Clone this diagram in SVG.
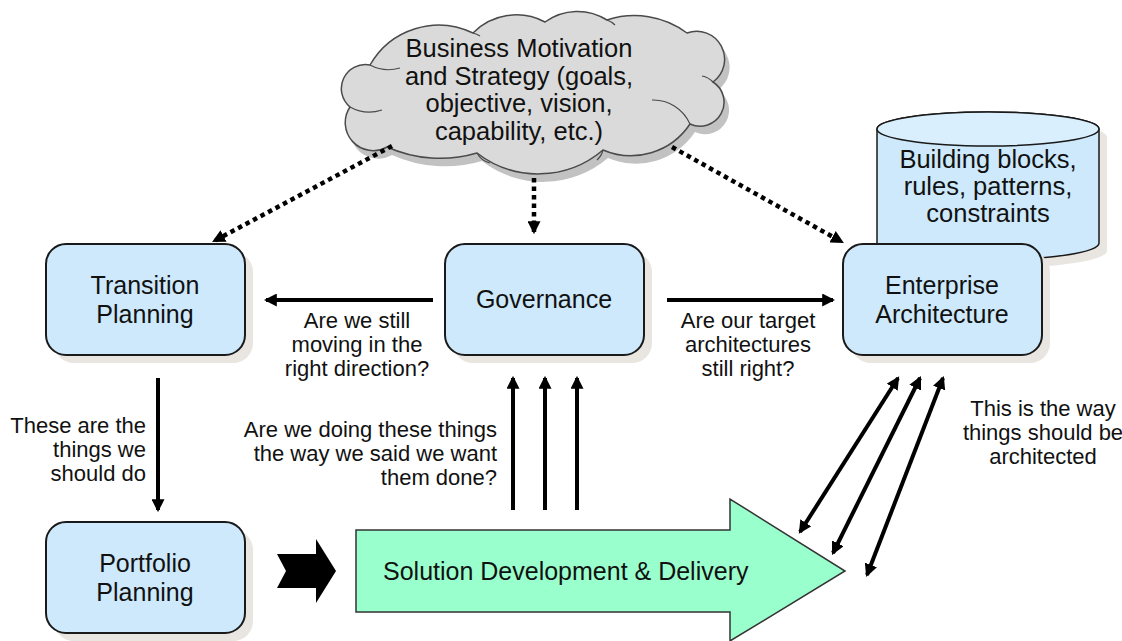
<svg xmlns="http://www.w3.org/2000/svg" width="1122" height="641" viewBox="0 0 1122 641">
<style>
.box{fill:#cde9fb;stroke:#1a1a1a;stroke-width:2}
.shadow{fill:#e9e5e1;stroke:none}
.t{font-family:"Liberation Sans",Arial,sans-serif;fill:#111}
.n{font-size:25px;text-anchor:middle}
.c{font-size:25.5px;text-anchor:middle}
.l{font-size:22px}
.mid{text-anchor:middle}
.end{text-anchor:end}
.solid{stroke:#000;stroke-width:4;fill:none}
.dot{stroke:#000;stroke-width:4.5;fill:none;stroke-dasharray:4.5 4}
.inner{fill:none;stroke:#4a4a4a;stroke-width:1.2}
</style>
<defs>
<marker id="ah" viewBox="0 0 12 12" refX="10" refY="6" markerWidth="13" markerHeight="13" orient="auto-start-reverse" markerUnits="userSpaceOnUse">
<path d="M0,0 L12,6 L0,12 z" fill="#000"/>
</marker>
<path id="cloudPath" d="M370,65 A79,79 0 0 1 473,33 A61,61 0 0 1 545,22 A55,55 0 0 1 607,20 A88,88 0 0 1 687,33 A28,28 0 0 1 713,82 A24,24 0 0 1 690,124 A71,71 0 0 1 603,150 A100,100 0 0 1 477,153 A130,130 0 0 1 387,147 A28,28 0 0 1 350,107 A24,24 0 0 1 370,65 Z"/>
</defs>

<g id="cloud">
<use href="#cloudPath" transform="translate(5,8)" fill="#c2c2c2"/>
<use href="#cloudPath" fill="#dadada" stroke="#4a4a4a" stroke-width="1.5"/>
<path class="inner" d="M350,107 A40,40 0 0 0 382,110"/>
<path class="inner" d="M370,65 A40,40 0 0 0 400,68"/>
<path class="inner" d="M690,124 A40,40 0 0 0 652,100"/>
<path class="inner" d="M713,82 A20,20 0 0 0 702,76"/>
<path class="inner" d="M477,153 A20,20 0 0 0 490,163"/>
<path class="inner" d="M603,150 A20,20 0 0 1 597,160"/>
<path class="inner" d="M473,33 A20,20 0 0 1 480,36"/>
<path class="inner" d="M607,20 A20,20 0 0 1 615,25"/>
<text class="t c" x="519" y="57">Business Motivation</text>
<text class="t c" x="519" y="85">and Strategy (goals,</text>
<text class="t c" x="519" y="112">objective, vision,</text>
<text class="t c" x="519" y="140">capability, etc.)</text>
</g>

<g id="repository">
<path class="shadow" d="M885,137 A111,17 0 0 1 1107,137 L1107,251 A111,17 0 0 1 885,251 Z"/>
<path d="M877,129 A111,17 0 0 1 1099,129 L1099,243 A111,17 0 0 1 877,243 Z" fill="#cde9fb" stroke="#1a1a1a" stroke-width="1.5"/>
<ellipse cx="988" cy="129" rx="111" ry="17" fill="#d9effd" stroke="#1a1a1a" stroke-width="1.5"/>
<text class="t c" x="988" y="168">Building blocks,</text>
<text class="t c" x="988" y="195">rules, patterns,</text>
<text class="t c" x="988" y="222">constraints</text>
</g>

<g id="transition-planning">
<rect class="shadow" x="54" y="252" width="199" height="111" rx="20"/>
<rect class="box" x="46" y="244" width="199" height="111" rx="20"/>
<text class="t n" x="145" y="294">Transition</text>
<text class="t n" x="145" y="323">Planning</text>
</g>

<g id="governance">
<rect class="shadow" x="453" y="252" width="199" height="111" rx="20"/>
<rect class="box" x="445" y="244" width="199" height="111" rx="20"/>
<text class="t n" x="544" y="308">Governance</text>
</g>

<g id="enterprise-architecture">
<rect class="shadow" x="851" y="252" width="199" height="111" rx="20"/>
<rect class="box" x="843" y="244" width="199" height="111" rx="20"/>
<text class="t n" x="942" y="294">Enterprise</text>
<text class="t n" x="942" y="323">Architecture</text>
</g>

<g id="portfolio-planning">
<rect class="shadow" x="54" y="530" width="199" height="111" rx="20"/>
<rect class="box" x="46" y="522" width="199" height="111" rx="20"/>
<text class="t n" x="145" y="572">Portfolio</text>
<text class="t n" x="145" y="601">Planning</text>
</g>

<g id="solution-delivery">
<path d="M356,530 L730,530 L730,499 L845,571 L730,641 L730,612 L356,612 Z" fill="#99ffcc" stroke="#333" stroke-width="1.5"/>
<text class="t" x="383" y="580" style="font-size:25px">Solution Development &amp; Delivery</text>
</g>

<g id="connectors">
<path class="dot" d="M392,146 L214,241" marker-end="url(#ah)"/>
<path class="dot" d="M534,178 L534,232" marker-end="url(#ah)"/>
<path class="dot" d="M672,147 L842,242" marker-end="url(#ah)"/>
<path class="solid" d="M433,300 L266,300" marker-end="url(#ah)"/>
<path class="solid" d="M667,300 L833,300" marker-end="url(#ah)"/>
<path class="solid" d="M158,378 L158,510" marker-end="url(#ah)"/>
<path class="solid" d="M513,510 L513,378" marker-end="url(#ah)"/>
<path class="solid" d="M545,510 L545,378" marker-end="url(#ah)"/>
<path class="solid" d="M577,510 L577,378" marker-end="url(#ah)"/>
<path class="solid" d="M898,378 L800,532" marker-start="url(#ah)" marker-end="url(#ah)"/>
<path class="solid" d="M920,378 L833,553" marker-start="url(#ah)" marker-end="url(#ah)"/>
<path class="solid" d="M943,378 L867,575" marker-start="url(#ah)" marker-end="url(#ah)"/>
<path d="M277,554 L316,554 L316,539 L336,571 L316,603 L316,588 L277,588 L286,571 Z" fill="#000"/>
</g>

<g id="labels">
<text class="t l mid" x="357" y="328">Are we still</text>
<text class="t l mid" x="357" y="352">moving in the</text>
<text class="t l mid" x="357" y="376">right direction?</text>
<text class="t l mid" x="748" y="328">Are our target</text>
<text class="t l mid" x="748" y="352">architectures</text>
<text class="t l mid" x="748" y="376">still right?</text>
<text class="t l end" x="146" y="433">These are the</text>
<text class="t l end" x="146" y="457">things we</text>
<text class="t l end" x="146" y="481">should do</text>
<text class="t l end" x="497" y="437">Are we doing these things</text>
<text class="t l end" x="497" y="461">the way we said we want</text>
<text class="t l end" x="497" y="485">them done?</text>
<text class="t l mid" x="1043" y="416">This is the way</text>
<text class="t l mid" x="1043" y="440">things should be</text>
<text class="t l mid" x="1043" y="464">architected</text>
</g>
</svg>
